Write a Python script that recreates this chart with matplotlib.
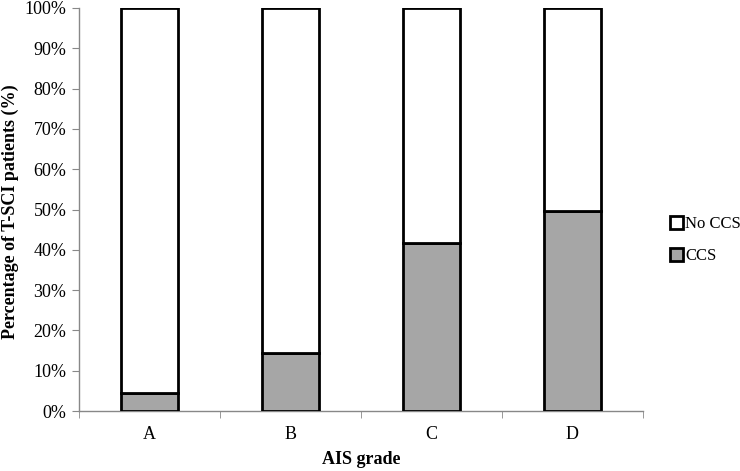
import numpy as np
import matplotlib.pyplot as plt
from matplotlib.ticker import PercentFormatter, FixedLocator
from matplotlib.patches import Patch

grades = ['A', 'B', 'C', 'D']
ccs = [4.4, 14.5, 41.8, 49.6]
no_ccs = [100 - v for v in ccs]

plt.rcParams['font.family'] = ['Liberation Serif', 'DejaVu Serif']

fig = plt.figure(figsize=(7.4, 4.71), dpi=100)
ax = fig.add_axes([79 / 740, 60 / 471, 564 / 740, 403 / 471])

x = np.arange(len(grades))
ax.bar(x, ccs, width=0.4, color='#a6a6a6', edgecolor='black', linewidth=2, zorder=3)
ax.bar(x, no_ccs, width=0.4, bottom=ccs, color='white', edgecolor='black', linewidth=2, zorder=3)

ax.set_xlim(-0.5, len(grades) - 0.5)
ax.set_ylim(0, 100)
ax.set_yticks(np.arange(0, 101, 10))
ax.yaxis.set_major_formatter(PercentFormatter(decimals=0))
ax.set_xticks(x)
ax.set_xticklabels(grades)
ax.xaxis.set_minor_locator(FixedLocator(np.arange(-0.5, len(grades), 1)))
ax.tick_params(axis='x', which='major', length=0, pad=11, labelsize=13)
ax.tick_params(axis='x', which='minor', length=5, color='#888888', direction='out')
ax.tick_params(axis='y', length=5, color='#888888', direction='out', labelsize=13, pad=4)

for s in ['top', 'right']:
    ax.spines[s].set_visible(False)
for s in ['left', 'bottom']:
    ax.spines[s].set_color('#888888')
    ax.spines[s].set_linewidth(1)

# axis titles placed in figure pixels to keep them inside the canvas
fig.text(10 / 740, 1 - 212 / 471, 'Percentage of T-SCI patients (%)', rotation=90,
         ha='center', va='center', fontsize=13, fontweight='bold')
fig.text(361 / 740, 1 - 460 / 471, 'AIS grade', ha='center', va='center',
         fontsize=13, fontweight='bold')

handles = [Patch(facecolor='white', edgecolor='black', linewidth=2, label='No CCS'),
           Patch(facecolor='#a6a6a6', edgecolor='black', linewidth=2, label='CCS')]
fig.legend(handles=handles, loc='center left', bbox_to_anchor=(670 / 740, 1 - 240 / 471),
           frameon=False, fontsize=12, handlelength=0.8, handleheight=0.8,
           handletextpad=0.1, labelspacing=0.95, borderaxespad=0, borderpad=0)

fig.savefig('out.png', dpi=100)
